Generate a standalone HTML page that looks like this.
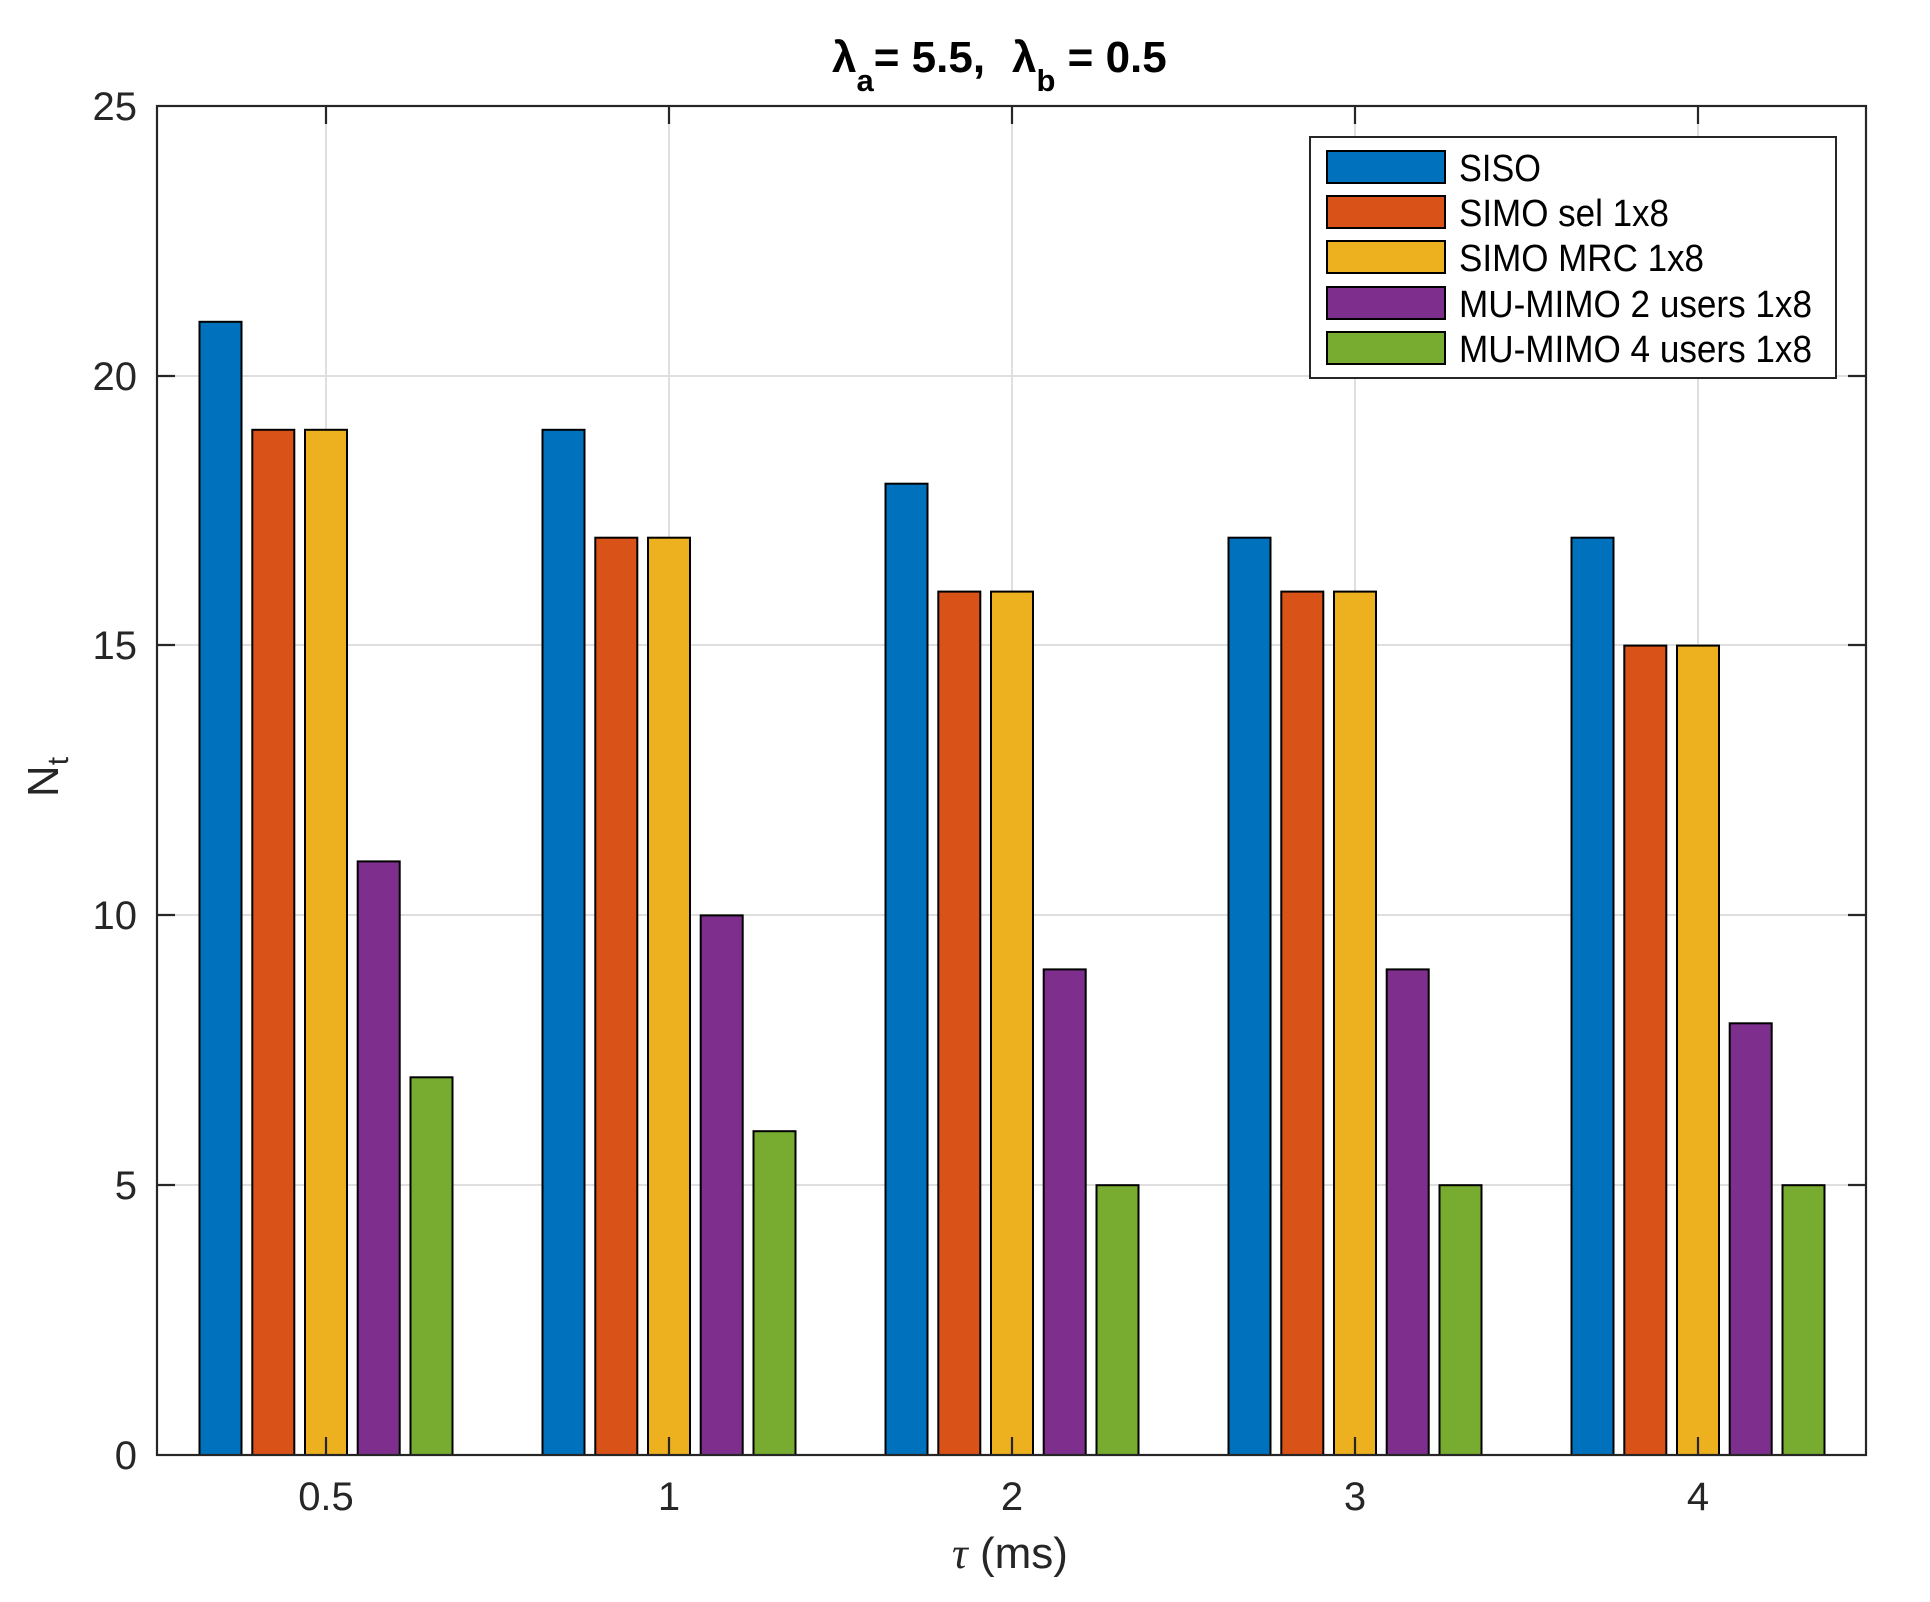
<!DOCTYPE html>
<html><head><meta charset="utf-8"><style>html,body{margin:0;padding:0;background:#fff}</style></head>
<body>
<svg width="1930" height="1597" xmlns="http://www.w3.org/2000/svg" font-family="'Liberation Sans', sans-serif">
<rect width="1930" height="1597" fill="#fff"/>
<!-- grid -->
<g stroke="#dfdfdf" stroke-width="2">
<line x1="157" y1="1185" x2="1866" y2="1185"/>
<line x1="157" y1="915" x2="1866" y2="915"/>
<line x1="157" y1="645" x2="1866" y2="645"/>
<line x1="157" y1="376" x2="1866" y2="376"/>
<line x1="326" y1="106" x2="326" y2="1455"/>
<line x1="669" y1="106" x2="669" y2="1455"/>
<line x1="1012" y1="106" x2="1012" y2="1455"/>
<line x1="1355" y1="106" x2="1355" y2="1455"/>
<line x1="1698" y1="106" x2="1698" y2="1455"/>
</g>
<!-- bars -->
<g stroke="#000" stroke-width="2">
<g transform="translate(326,0)">
<rect x="-126.5" y="321.8" width="42" height="1133.2" fill="#0072BD"/>
<rect x="-73.7" y="429.8" width="42" height="1025.2" fill="#D95319"/>
<rect x="-21" y="429.8" width="42" height="1025.2" fill="#EDB120"/>
<rect x="31.7" y="861.4" width="42" height="593.6" fill="#7E2F8E"/>
<rect x="84.5" y="1077.3" width="42" height="377.7" fill="#77AC30"/>
</g>
<g transform="translate(669,0)">
<rect x="-126.5" y="429.8" width="42" height="1025.2" fill="#0072BD"/>
<rect x="-73.7" y="537.7" width="42" height="917.3" fill="#D95319"/>
<rect x="-21" y="537.7" width="42" height="917.3" fill="#EDB120"/>
<rect x="31.7" y="915.4" width="42" height="539.6" fill="#7E2F8E"/>
<rect x="84.5" y="1131.2" width="42" height="323.8" fill="#77AC30"/>
</g>
<g transform="translate(1012,0)">
<rect x="-126.5" y="483.7" width="42" height="971.3" fill="#0072BD"/>
<rect x="-73.7" y="591.6" width="42" height="863.4" fill="#D95319"/>
<rect x="-21" y="591.6" width="42" height="863.4" fill="#EDB120"/>
<rect x="31.7" y="969.4" width="42" height="485.6" fill="#7E2F8E"/>
<rect x="84.5" y="1185.2" width="42" height="269.8" fill="#77AC30"/>
</g>
<g transform="translate(1355,0)">
<rect x="-126.5" y="537.7" width="42" height="917.3" fill="#0072BD"/>
<rect x="-73.7" y="591.6" width="42" height="863.4" fill="#D95319"/>
<rect x="-21" y="591.6" width="42" height="863.4" fill="#EDB120"/>
<rect x="31.7" y="969.4" width="42" height="485.6" fill="#7E2F8E"/>
<rect x="84.5" y="1185.2" width="42" height="269.8" fill="#77AC30"/>
</g>
<g transform="translate(1698,0)">
<rect x="-126.5" y="537.7" width="42" height="917.3" fill="#0072BD"/>
<rect x="-73.7" y="645.6" width="42" height="809.4" fill="#D95319"/>
<rect x="-21" y="645.6" width="42" height="809.4" fill="#EDB120"/>
<rect x="31.7" y="1023.3" width="42" height="431.7" fill="#7E2F8E"/>
<rect x="84.5" y="1185.2" width="42" height="269.8" fill="#77AC30"/>
</g>
</g>
<!-- axes box & ticks -->
<g stroke="#262626" stroke-width="2.2" fill="none">
<rect x="157" y="106" width="1709" height="1349"/>
<path d="M157 1185h18M157 915h18M157 645h18M157 376h18M1866 1185h-18M1866 915h-18M1866 645h-18M1866 376h-18"/>
<path d="M326 1455v-18M669 1455v-18M1012 1455v-18M1355 1455v-18M1698 1455v-18M326 106v18M669 106v18M1012 106v18M1355 106v18M1698 106v18"/>
</g>
<!-- y tick labels -->
<g fill="#262626" font-size="40" text-anchor="end">
<text x="137" y="1469">0</text>
<text x="137" y="1199">5</text>
<text x="137" y="929">10</text>
<text x="137" y="659">15</text>
<text x="137" y="390">20</text>
<text x="137" y="120">25</text>
</g>
<!-- x tick labels -->
<g fill="#262626" font-size="40" text-anchor="middle">
<text x="326" y="1510">0.5</text>
<text x="669" y="1510">1</text>
<text x="1012" y="1510">2</text>
<text x="1355" y="1510">3</text>
<text x="1698" y="1510">4</text>
</g>
<!-- x label -->
<text x="952" y="1568" font-size="44" fill="#262626"><tspan font-family="'Liberation Serif', serif" font-style="italic">τ</tspan> (ms)</text>
<!-- y label -->
<g transform="translate(58,777) rotate(-90)">
<text x="0" y="0" font-size="44" fill="#262626" text-anchor="middle">N<tspan font-size="30" dy="10">t</tspan></text>
</g>
<!-- title -->
<g font-size="44" font-weight="bold" fill="#000">
<text x="832" y="72">λ<tspan font-size="31" dy="19">a</tspan><tspan dy="-19">= 5.5,</tspan></text>
<text x="1012" y="72">λ<tspan font-size="31" dy="19">b</tspan><tspan dy="-19"> = 0.5</tspan></text>
</g>
<!-- legend -->
<rect x="1310" y="137" width="526" height="241" fill="#fff" stroke="#262626" stroke-width="2"/>
<g stroke="#000" stroke-width="2">
<rect x="1327" y="151" width="118" height="32" fill="#0072BD"/>
<rect x="1327" y="196" width="118" height="32" fill="#D95319"/>
<rect x="1327" y="241" width="118" height="32" fill="#EDB120"/>
<rect x="1327" y="287" width="118" height="32" fill="#7E2F8E"/>
<rect x="1327" y="332" width="118" height="32" fill="#77AC30"/>
</g>
<g fill="#000" font-size="38">
<text x="1459" y="181" textLength="82" lengthAdjust="spacingAndGlyphs">SISO</text>
<text x="1459" y="226" textLength="210" lengthAdjust="spacingAndGlyphs">SIMO sel 1x8</text>
<text x="1459" y="271" textLength="245" lengthAdjust="spacingAndGlyphs">SIMO MRC 1x8</text>
<text x="1459" y="317" textLength="353" lengthAdjust="spacingAndGlyphs">MU-MIMO 2 users 1x8</text>
<text x="1459" y="362" textLength="353" lengthAdjust="spacingAndGlyphs">MU-MIMO 4 users 1x8</text>
</g>
</svg>
</body></html>
